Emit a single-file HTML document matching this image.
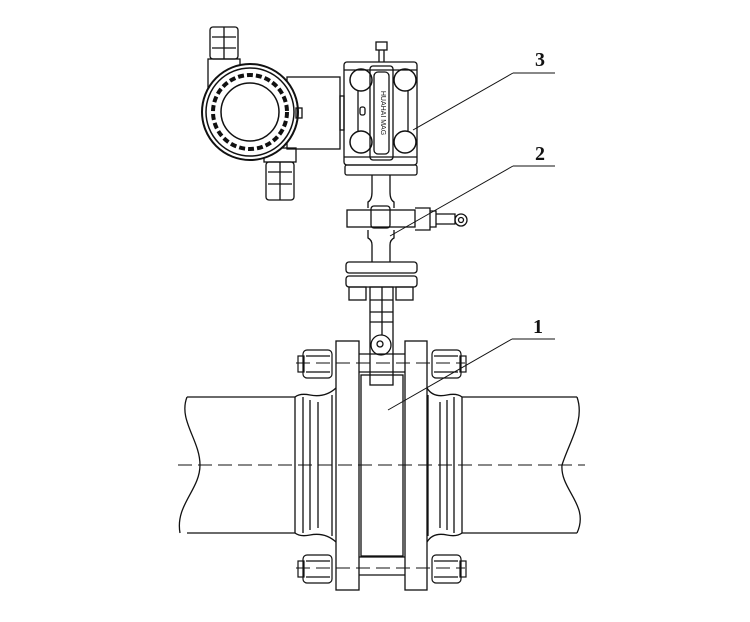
<!DOCTYPE html>
<html><head><meta charset="utf-8"><style>html,body{margin:0;padding:0;background:#fff}svg{display:block}</style></head>
<body>
<svg width="750" height="622" viewBox="0 0 750 622" xmlns="http://www.w3.org/2000/svg" fill="none" stroke="#111" stroke-width="1.3" font-family="Liberation Serif, serif">
<!-- pipes -->
<path d="M187 397 H295 M187 533 H295 M187 397 C178 420 200 440 200 465 C200 490 175 505 180 533"/>
<path d="M462 397 H577 M462 533 H577 M577 397 C585 420 570 440 562 465 C560 490 590 505 577 533"/>
<path d="M295 397 V533 M303 397 V533 M310 400 V530 M318 402 V528 M332 395 V536"/>
<path d="M295 397 Q300 393 310 395 Q325 398 336 388 M295 533 Q300 537 310 535 Q325 532 336 542"/>
<path d="M462 397 V533 M454 397 V533 M447 400 V530 M440 402 V528 M428 395 V536"/>
<path d="M462 397 Q457 393 447 395 Q433 398 427 388 M462 533 Q457 537 447 535 Q433 532 427 542"/>
<!-- flanges -->
<rect x="336" y="341" width="23" height="249"/>
<rect x="405" y="341" width="22" height="249"/>
<rect x="361" y="375" width="42" height="181"/>
<path d="M359 354 H405 M359 372 H405 M359 557 H405 M359 575 H405"/>
<!-- nuts -->
<g stroke-width="1.2">
<rect x="303" y="350" width="29" height="28" rx="4"/><rect x="298" y="356" width="6" height="16"/><path d="M306 356 H330 M306 372 H330"/>
<rect x="432" y="350" width="29" height="28" rx="4"/><rect x="460" y="356" width="6" height="16"/><path d="M434 356 H458 M434 372 H458"/>
<rect x="303" y="555" width="29" height="28" rx="4"/><rect x="298" y="561" width="6" height="16"/><path d="M306 561 H330 M306 577 H330"/>
<rect x="432" y="555" width="29" height="28" rx="4"/><rect x="460" y="561" width="6" height="16"/><path d="M434 561 H458 M434 577 H458"/>
</g>
<!-- centerlines -->
<path d="M178 465 H585 M296 363 H465 M296 568 H465" stroke-dasharray="14 6" stroke-width="1"/>
<!-- stem -->
<rect x="370" y="287" width="23" height="98"/>
<path d="M370 300 H393 M370 312 H393 M370 322 H393 M382 287 V335"/>
<circle cx="381" cy="345" r="10"/><circle cx="380" cy="344" r="3"/>
<!-- manifold flanges -->
<rect x="346" y="262" width="71" height="11" rx="3"/>
<rect x="346" y="276" width="71" height="11" rx="3"/>
<rect x="349" y="287" width="17" height="13"/><rect x="396" y="287" width="17" height="13"/>
<path d="M372 262 V245 Q372 240 368 238 V230 M390 262 V245 Q390 240 394 238 V230"/>
<path d="M368 208 V202 Q372 200 372 192 V175 M394 208 V202 Q390 200 390 192 V175"/>
<rect x="347" y="210" width="68" height="17"/>
<rect x="371" y="206" width="19" height="22" rx="3"/>
<path d="M415 208 H430 V230 H415 M430 211 H436 V227 H430 M436 214 H455 V224 H436"/>
<circle cx="461" cy="220" r="6"/><circle cx="461" cy="220" r="2.5"/>
<rect x="345" y="165" width="72" height="10" rx="2"/>
<!-- sensor body -->
<rect x="344" y="62" width="73" height="103" rx="3"/>
<path d="M344 70 H417 M344 157 H417"/>
<rect x="370" y="66" width="23" height="94" rx="3"/>
<rect x="374" y="72" width="15" height="82" rx="4"/>
<text x="381" y="113" font-size="7" font-family="Liberation Sans, sans-serif" fill="#111" stroke="none" transform="rotate(90 381 113)" text-anchor="middle">HUAHAI MAG</text>
<g stroke-width="1.5">
<circle cx="361" cy="80" r="11"/><circle cx="405" cy="80" r="11"/>
<circle cx="361" cy="142" r="11"/><circle cx="405" cy="142" r="11"/>
</g>
<path d="M358 91 V131 M408 91 V131"/>
<rect x="360" y="107" width="5" height="8" rx="2"/>
<rect x="376" y="42" width="11" height="8"/><path d="M379 50 V62 M384 50 V62"/>
<!-- transmitter -->
<rect x="287" y="77" width="53" height="72"/>
<rect x="340" y="96" width="4" height="34"/>
<rect x="208" y="59" width="32" height="34"/>
<rect x="210" y="27" width="28" height="32" rx="3"/><path d="M212 37 H236 M212 48 H236 M224 27 V59"/>
<rect x="264" y="148" width="32" height="14"/>
<rect x="266" y="162" width="28" height="38" rx="3"/><path d="M268 172 H292 M268 184 H292 M280 162 V200"/>
<circle cx="250" cy="112" r="48" fill="#fff" stroke-width="2"/>
<circle cx="250" cy="112" r="44" stroke-width="1.5"/>
<circle cx="250" cy="112" r="37" stroke-width="4" stroke-dasharray="6 3"/>
<circle cx="250" cy="112" r="29" stroke-width="1.5"/>
<rect x="296" y="108" width="6" height="10"/>
<!-- labels -->
<path d="M513 73 H555 M513 73 L413 130" stroke-width="1"/>
<path d="M513 166 H555 M513 166 L390 236" stroke-width="1"/>
<path d="M512 339 H555 M512 339 L388 410" stroke-width="1"/>
<text x="535" y="66" font-size="20" fill="#111" stroke="none" font-weight="bold">3</text>
<text x="535" y="160" font-size="20" fill="#111" stroke="none" font-weight="bold">2</text>
<text x="533" y="333" font-size="20" fill="#111" stroke="none" font-weight="bold">1</text>
</svg>
</body></html>
